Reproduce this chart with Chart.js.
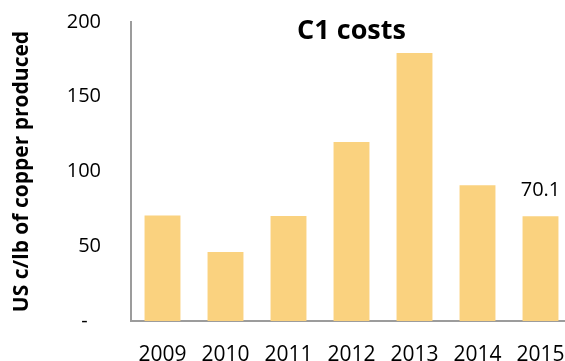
<!DOCTYPE html>
<html>
<head>
<meta charset="utf-8">
<script src="https://cdn.jsdelivr.net/npm/chart.js@4"></script>
<style>
  html, body { margin: 0; padding: 0; background: #fff; overflow: hidden; }
  #wrap { width: 565px; height: 361px; overflow: hidden; position: relative; }
  #box { width: 572px; height: 385px; position: absolute; left: 0; top: 0; }
</style>
</head>
<body>
<div id="wrap"><div id="box"><canvas id="c1Chart"></canvas></div></div>
<script>
var years = ['2009', '2010', '2011', '2012', '2013', '2014', '2015'];
var c1Costs = [70.6, 46.2, 70.3, 119.8, 179.3, 90.8, 70.1];
var yTicks = [0, 50, 100, 150, 200];
var labelledIndex = 6; // only the last year gets a value label

var fontFamily = "'Open Sans', 'Noto Sans', sans-serif";

// title and value label are drawn straight onto the chart area
var overlayText = {
    id: 'overlayText',
    afterDatasetsDraw: function(chart) {
        var ctx = chart.ctx;
        var area = chart.chartArea;
        ctx.save();
        ctx.fillStyle = '#000';
        ctx.textAlign = 'center';
        ctx.textBaseline = 'middle';
        ctx.font = 'bold 27px ' + fontFamily;
        ctx.fillText('C1 costs', (area.left + area.right) / 2, 31);

        var bar = chart.getDatasetMeta(0).data[labelledIndex];
        ctx.font = '20px ' + fontFamily;
        ctx.fillText(c1Costs[labelledIndex].toFixed(1), bar.x, 190);
        ctx.restore();
    }
};

var ctx = document.getElementById('c1Chart').getContext('2d');
var myChart = new Chart(ctx, {
    type: 'bar',
    data: {
        labels: years,
        datasets: [{
            label: 'C1 costs',
            data: c1Costs,
            backgroundColor: '#FAD27F',
            borderWidth: 0,
            barPercentage: 0.57,
            categoryPercentage: 1.0
        }]
    },
    options: {
        responsive: true,
        maintainAspectRatio: false,
        animation: false,
        layout: { padding: { top: 22, right: 0, left: 0, bottom: 0 } },
        plugins: {
            legend: { display: false },
            tooltip: { enabled: false }
        },
        scales: {
            x: {
                grid: { display: false, drawTicks: false },
                border: { display: true, color: '#9c9c9c', width: 2 },
                ticks: {
                    color: '#000',
                    padding: 21,
                    maxRotation: 0,
                    font: { family: fontFamily, size: 21 }
                },
                afterFit: function(axis) {
                    axis.height = 64;
                    axis.paddingLeft = 0;
                    axis.paddingRight = 0;
                }
            },
            y: {
                min: 0,
                max: 200,
                afterBuildTicks: function(axis) {
                    axis.ticks = yTicks.map(function(v) { return { value: v }; });
                },
                grid: { display: false, drawTicks: false },
                border: { display: true, color: '#9c9c9c', width: 2 },
                ticks: {
                    color: '#000',
                    padding: 30,
                    font: { family: fontFamily, size: 20 },
                    callback: function(value) {
                        return value === 0 ? '-\u2002\u2009' : value;
                    }
                },
                title: {
                    display: true,
                    text: 'US c/lb of copper produced',
                    color: '#000',
                    font: { family: fontFamily, size: 21, weight: 'bold' },
                    padding: { top: 9, bottom: 0 }
                },
                afterFit: function(axis) {
                    axis.width = 131;
                    axis.paddingTop = 0;
                    axis.paddingBottom = 0;
                }
            }
        }
    },
    plugins: [overlayText]
});
</script>
</body>
</html>
